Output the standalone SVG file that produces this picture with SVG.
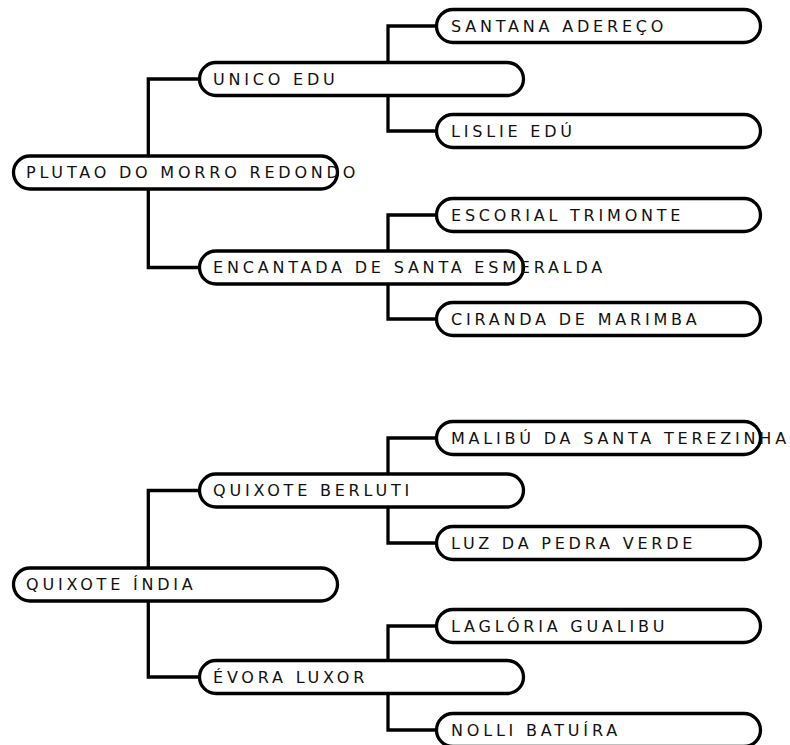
<svg xmlns="http://www.w3.org/2000/svg" width="790" height="745" viewBox="0 0 790 745">
<style>
.bg{fill:#fff}
.conn{fill:none;stroke:#000;stroke-width:3.3;stroke-linejoin:miter}
.box{fill:#fff;stroke:#000;stroke-width:3.3}
.lbl{font-family:"DejaVu Sans","Liberation Sans",sans-serif;font-size:16px;letter-spacing:3.8px;fill:#111}
</style>
<rect class="bg" x="0" y="0" width="790" height="745"/>
<g id="connectors">
<path class="conn" d="M199.5,79 H148.3 V267.5 H199.5"/>
<path class="conn" d="M436.5,26 H388 V131 H436.5"/>
<path class="conn" d="M436.5,215 H388 V319 H436.5"/>
<path class="conn" d="M199.5,490.5 H148.3 V677 H199.5"/>
<path class="conn" d="M436.5,438 H388 V543 H436.5"/>
<path class="conn" d="M436.5,626 H388 V730 H436.5"/>
</g>
<g id="n-plutao"><rect class="box" x="13.5" y="156" width="324" height="33" rx="16.5"/><text class="lbl" x="26" y="178.4">PLUTAO DO MORRO REDONDO</text></g>
<g id="n-unico"><rect class="box" x="199.5" y="62.5" width="324" height="33" rx="16.5"/><text class="lbl" x="213" y="84.9">UNICO EDU</text></g>
<g id="n-encantada"><rect class="box" x="199.5" y="251" width="324" height="33" rx="16.5"/><text class="lbl" x="213" y="273.4">ENCANTADA DE SANTA ESMERALDA</text></g>
<g id="n-santana"><rect class="box" x="436.5" y="9.5" width="324" height="33" rx="16.5"/><text class="lbl" x="451" y="31.9">SANTANA ADEREÇO</text></g>
<g id="n-lislie"><rect class="box" x="436.5" y="114.5" width="324" height="33" rx="16.5"/><text class="lbl" x="451" y="136.9">LISLIE EDÚ</text></g>
<g id="n-escorial"><rect class="box" x="436.5" y="198.5" width="324" height="33" rx="16.5"/><text class="lbl" x="451" y="220.9">ESCORIAL TRIMONTE</text></g>
<g id="n-ciranda"><rect class="box" x="436.5" y="302.5" width="324" height="33" rx="16.5"/><text class="lbl" x="451" y="324.9">CIRANDA DE MARIMBA</text></g>
<g id="n-quixote-india"><rect class="box" x="13.5" y="568" width="324" height="33" rx="16.5"/><text class="lbl" x="26" y="590.4">QUIXOTE ÍNDIA</text></g>
<g id="n-quixote-berluti"><rect class="box" x="199.5" y="474" width="324" height="33" rx="16.5"/><text class="lbl" x="213" y="496.4">QUIXOTE BERLUTI</text></g>
<g id="n-evora"><rect class="box" x="199.5" y="660.5" width="324" height="33" rx="16.5"/><text class="lbl" x="213" y="682.9">ÉVORA LUXOR</text></g>
<g id="n-malibu"><rect class="box" x="436.5" y="421.5" width="324" height="33" rx="16.5"/><text class="lbl" x="451" y="443.9">MALIBÚ DA SANTA TEREZINHA</text></g>
<g id="n-luz"><rect class="box" x="436.5" y="526.5" width="324" height="33" rx="16.5"/><text class="lbl" x="451" y="548.9">LUZ DA PEDRA VERDE</text></g>
<g id="n-lagloria"><rect class="box" x="436.5" y="609.5" width="324" height="33" rx="16.5"/><text class="lbl" x="451" y="631.9">LAGLÓRIA GUALIBU</text></g>
<g id="n-nolli"><rect class="box" x="436.5" y="713.5" width="324" height="33" rx="16.5"/><text class="lbl" x="451" y="735.9">NOLLI BATUÍRA</text></g>
</svg>
